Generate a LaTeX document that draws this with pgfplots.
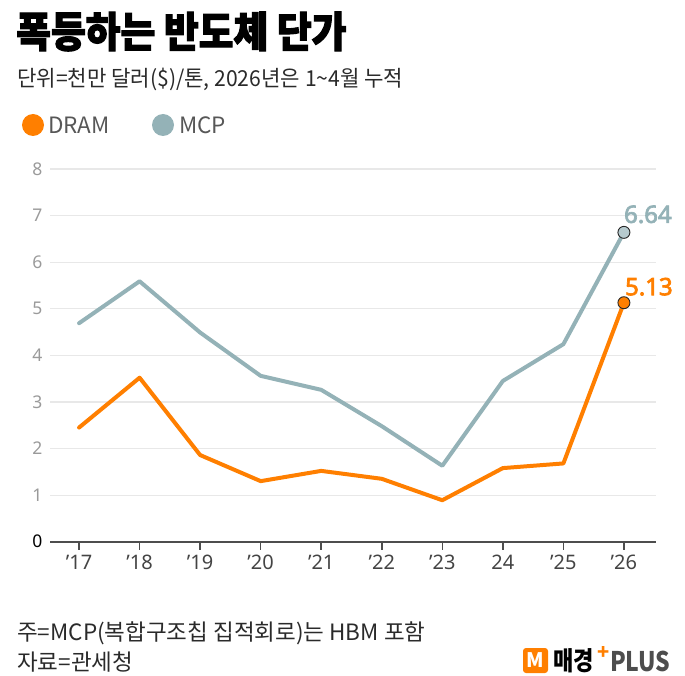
\documentclass[border=0pt]{standalone}
\usepackage{pgfplots}
\pgfplotsset{compat=1.18}
\usepackage{fontspec}
\setmainfont{Noto Sans CJK KR}
\newfontfamily\titlefont{Noto Sans CJK KR}[FakeStretch=0.9, BoldFeatures={FakeBold=2.5}]
\newfontfamily\subfont{Noto Sans CJK KR}[FakeStretch=0.96]
\newfontfamily\latinfont{Noto Sans}
\newfontfamily\valfont{Noto Sans}[FakeBold=3]
\newfontfamily\logofont{Noto Sans CJK KR}[FakeStretch=0.85]
\definecolor{dram}{HTML}{FF7F00}
\definecolor{mcp}{HTML}{94B2B7}
\definecolor{mcpfill}{HTML}{B6CACE}
\definecolor{gridc}{HTML}{E8E8E8}
\definecolor{ytc}{HTML}{9A9A9A}
\definecolor{xtc}{HTML}{444444}
\definecolor{axc}{HTML}{4D4D4D}
\definecolor{txt}{HTML}{2A2A2A}
\pgfplotstableread{
x mcp dram
0 4.69 2.45
1 5.59 3.52
2 4.49 1.86
3 3.56 1.30
4 3.26 1.52
5 2.48 1.35
6 1.63 0.89
7 3.45 1.58
8 4.24 1.68
9 6.64 5.13
}\datatable
\begin{document}
\begin{tikzpicture}
\useasboundingbox (0,0) rectangle (685pt,-676pt);
% title & subtitle
\node[anchor=west, inner sep=0pt, text=black] at (16pt,-31.5pt) {\titlefont\bfseries\fontsize{42}{42}\selectfont 폭등하는 반도체 단가};
\node[anchor=west, inner sep=0pt, text=txt] at (17pt,-79pt) {\subfont\fontsize{22}{22}\selectfont 단위=천만 달러(\$)/톤, 2026년은 1\char"007E 4월 누적};
% legend
\fill[dram] (33pt,-125pt) circle (11pt);
\node[anchor=west, inner sep=0pt, text=xtc!90] at (48pt,-125pt) {\fontsize{22.5}{22.5}\selectfont DRAM};
\fill[mcp] (163pt,-125pt) circle (11pt);
\node[anchor=west, inner sep=0pt, text=xtc!90] at (179pt,-125pt) {\fontsize{22.5}{22.5}\selectfont MCP};
% footnotes
\node[anchor=west, inner sep=0pt, text=txt] at (17pt,-633pt) {\fontsize{22.5}{22.5}\selectfont 주=MCP(복합구조칩 집적회로)는 HBM 포함};
\node[anchor=west, inner sep=0pt, text=txt] at (17pt,-662pt) {\fontsize{22.5}{22.5}\selectfont 자료=관세청};
% logo
\fill[dram, rounded corners=3pt] (523pt,-648pt) rectangle (548pt,-673pt);
\node[inner sep=0pt, text=white] at (535.5pt,-660.5pt) {\bfseries\fontsize{20}{20}\selectfont M};
\node[anchor=west, inner sep=0pt, text=black] at (553pt,-661pt) {\logofont\bfseries\fontsize{26}{26}\selectfont 매경};
\node[anchor=west, inner sep=0pt, text=dram] at (597pt,-653pt) {\bfseries\fontsize{20}{20}\selectfont +};
\node[anchor=west, inner sep=0pt, text=axc] at (610pt,-661pt) {\logofont\bfseries\fontsize{27}{27}\selectfont PLUS};
\begin{axis}[
  at={(50pt,-541.7pt)}, anchor=south west,
  scale only axis, width=606pt, height=372.7pt,
  xmin=-0.48, xmax=9.53, ymin=0, ymax=8,
  clip=false,
  axis x line*=bottom, axis y line*=left,
  y axis line style={draw=none},
  x axis line style={draw=axc, line width=2pt},
  xtick=data,
  xticklabels={’17,’18,’19,’20,’21,’22,’23,24,’25,’26},
  xtick style={draw=axc, line width=1.5pt},
  tick align=outside,
  major tick length=8pt,
  ytick={0,1,...,8},
  yticklabels={{\color{black}0},1,2,3,4,5,6,7,8},
  ytick style={draw=none},
  ymajorgrids, grid style={draw=gridc, line width=1.2pt},
  /pgf/number format/assume math mode=true,
  yticklabel style={font=\latinfont\fontsize{17.5}{17.5}\selectfont, text=ytc, anchor=east, xshift=4pt},
  xticklabel style={font=\latinfont\fontsize{20}{20}\selectfont, text=xtc, yshift=-2pt},
]
\addplot[mcp, line width=4pt, line join=round, line cap=round] table[x=x, y=mcp] {\datatable};
\addplot[dram, line width=4pt, line join=round, line cap=round] table[x=x, y=dram] {\datatable};
\addplot[only marks, mark=*, mark size=6pt, mark options={fill=mcpfill, draw=black!85, line width=0.9pt}] coordinates {(9,6.64)};
\addplot[only marks, mark=*, mark size=6pt, mark options={fill=dram, draw=black!85, line width=0.9pt}] coordinates {(9,5.13)};
\node[text=mcp, font=\valfont\fontsize{24}{24}\selectfont, xshift=24pt, yshift=18pt] at (axis cs:9,6.64) {6.64};
\node[text=dram, font=\valfont\fontsize{24}{24}\selectfont, xshift=25pt, yshift=16pt] at (axis cs:9,5.13) {5.13};
\end{axis}
\end{tikzpicture}
\end{document}
